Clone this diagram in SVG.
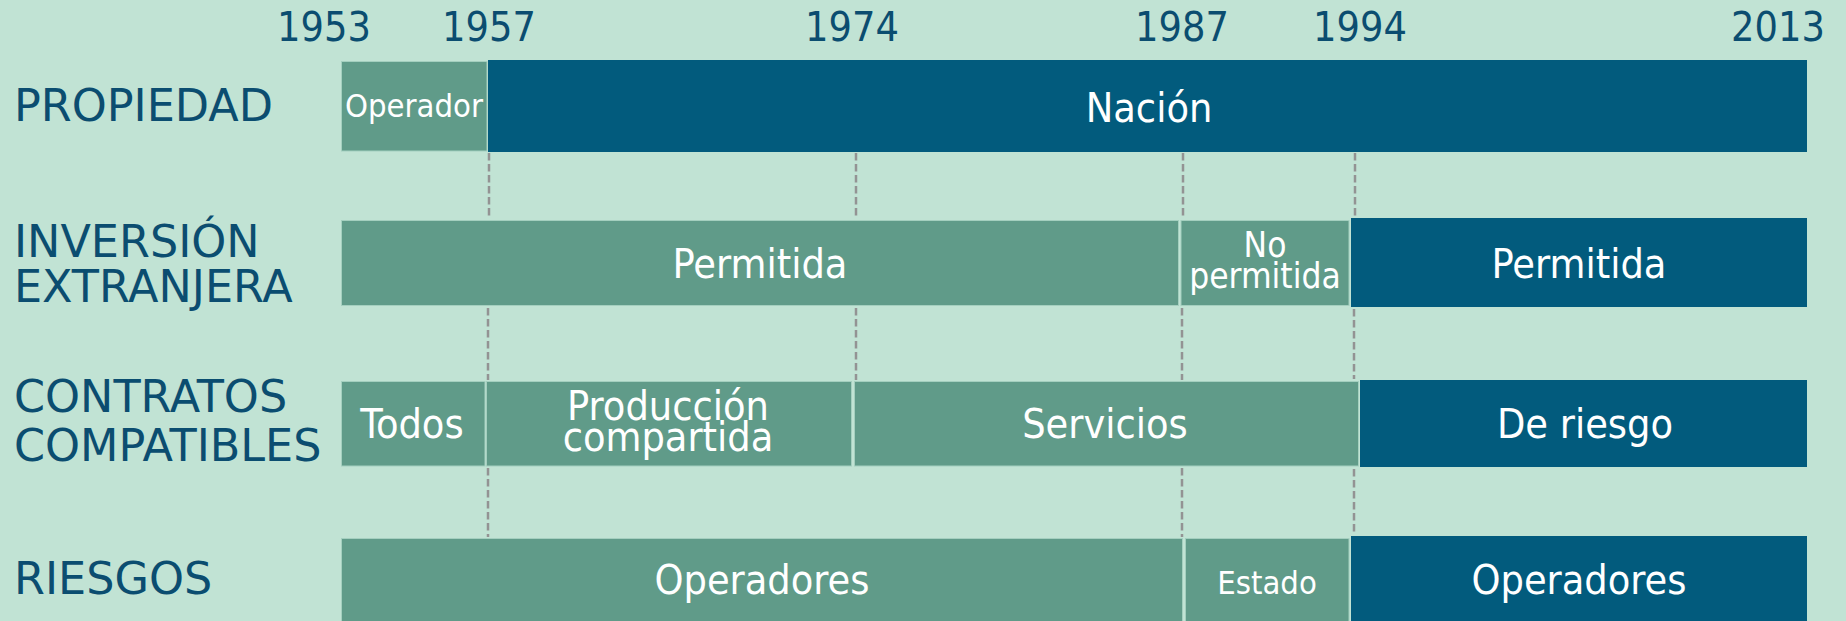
<svg xmlns="http://www.w3.org/2000/svg" width="1846" height="621" viewBox="0 0 1846 621">
<style>
.bg{fill:#C1E3D4}
.g{fill:#609B89;stroke:#A4CFBF;stroke-width:1}
.d{fill:#025B7D}
.yr{font-family:"DejaVu Sans Condensed","DejaVu Sans",sans-serif;font-size:41px;fill:#0B4D70;text-anchor:middle}
.lb{font-family:"DejaVu Sans",sans-serif;font-size:44.5px;fill:#0B4D70}
.t{font-family:"DejaVu Sans Condensed","DejaVu Sans",sans-serif;font-size:41px;fill:#FFFFFF;text-anchor:middle}
.ts{font-family:"DejaVu Sans Condensed","DejaVu Sans",sans-serif;font-size:32.5px;fill:#FFFFFF;text-anchor:middle}
.dash{stroke:#939393;stroke-width:2.5;stroke-dasharray:7.5 3.5;fill:none}
</style>
<rect class="bg" x="0" y="0" width="1846" height="621"/>
<g id="years">
<text class="yr" x="324" y="41">1953</text>
<text class="yr" x="489" y="41">1957</text>
<text class="yr" x="852" y="41">1974</text>
<text class="yr" x="1182" y="41">1987</text>
<text class="yr" x="1360" y="41">1994</text>
<text class="yr" x="1778" y="41">2013</text>
</g>
<g id="labels">
<text class="lb" x="14" y="121">PROPIEDAD</text>
<text class="lb" x="14" y="257">INVERSIÓN</text>
<text class="lb" x="14" y="302">EXTRANJERA</text>
<text class="lb" x="14" y="412">CONTRATOS</text>
<text class="lb" x="14" y="461">COMPATIBLES</text>
<text class="lb" x="14" y="594">RIESGOS</text>
</g>
<g id="connectors">
<line class="dash" x1="489" y1="153" x2="489" y2="219"/>
<line class="dash" x1="856" y1="153" x2="856" y2="219"/>
<line class="dash" x1="1183" y1="153" x2="1183" y2="219"/>
<line class="dash" x1="1355" y1="153" x2="1355" y2="216"/>
<line class="dash" x1="488" y1="308" x2="488" y2="380"/>
<line class="dash" x1="856" y1="308" x2="856" y2="380"/>
<line class="dash" x1="1182" y1="308" x2="1182" y2="380"/>
<line class="dash" x1="1354" y1="309" x2="1354" y2="379"/>
<line class="dash" x1="488" y1="468" x2="488" y2="537"/>
<line class="dash" x1="1182" y1="468" x2="1182" y2="537"/>
<line class="dash" x1="1354" y1="469" x2="1354" y2="535"/>
</g>
<g id="propiedad-operador"><rect class="g" x="341.5" y="61.5" width="145.5" height="89.5"/><text class="ts" x="414" y="117">Operador</text></g>
<g id="propiedad-nacion"><rect class="d" x="488" y="60" width="1319" height="92"/><text class="t" x="1149" y="122">Nación</text></g>
<g id="inversion-permitida"><rect class="g" x="341.5" y="220.5" width="837" height="85"/><text class="t" x="760" y="278">Permitida</text></g>
<g id="inversion-no-permitida"><rect class="g" x="1181" y="220.5" width="168" height="85"/><text class="ts" x="1265" y="257" style="font-size:35px">No</text><text class="ts" x="1265" y="288" style="font-size:35px">permitida</text></g>
<g id="inversion-permitida-2"><rect class="d" x="1351" y="218" width="456" height="89"/><text class="t" x="1579" y="278">Permitida</text></g>
<g id="contratos-todos"><rect class="g" x="341.5" y="381.5" width="143.5" height="84.5"/><text class="t" x="412" y="438">Todos</text></g>
<g id="contratos-produccion"><rect class="g" x="486.5" y="381.5" width="365" height="84.5"/><text class="t" x="668" y="420">Producción</text><text class="t" x="668" y="451">compartida</text></g>
<g id="contratos-servicios"><rect class="g" x="854.5" y="381.5" width="504" height="84.5"/><text class="t" x="1105" y="438">Servicios</text></g>
<g id="contratos-riesgo"><rect class="d" x="1360" y="380" width="447" height="87"/><text class="t" x="1585" y="438">De riesgo</text></g>
<g id="riesgos-operadores"><rect class="g" x="341.5" y="538.5" width="841" height="90"/><text class="t" x="762" y="594">Operadores</text></g>
<g id="riesgos-estado"><rect class="g" x="1185.5" y="538.5" width="163.5" height="90"/><text class="ts" x="1267" y="594">Estado</text></g>
<g id="riesgos-operadores-2"><rect class="d" x="1351" y="536" width="456" height="92"/><text class="t" x="1579" y="594">Operadores</text></g>
</svg>
